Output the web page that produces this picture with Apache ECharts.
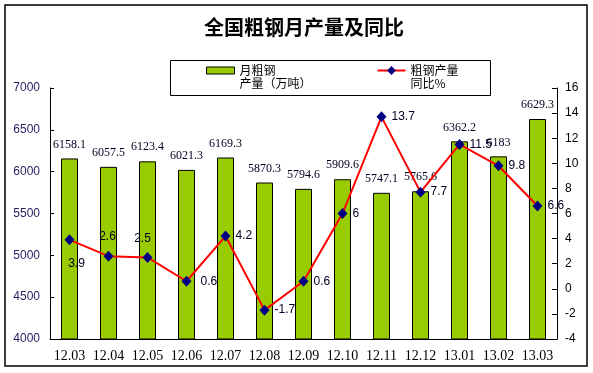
<!DOCTYPE html>
<html>
<head>
<meta charset="utf-8">
<script src="https://cdn.jsdelivr.net/npm/echarts@6/dist/echarts.min.js"></script>
<style>html,body{margin:0;padding:0;background:#fff;}#c{width:593px;height:373px;}</style>
</head>
<body>
<div id="c"></div>
<script>
var categories = ['12.03','12.04','12.05','12.06','12.07','12.08','12.09','12.10','12.11','12.12','13.01','13.02','13.03'];
var output = [6158.1, 6057.5, 6123.4, 6021.3, 6169.3, 5870.3, 5794.6, 5909.6, 5747.1, 5765.6, 6362.2, 6183, 6629.3];
var yoy = [3.9, 2.6, 2.5, 0.6, 4.2, -1.7, 0.6, 6, 13.7, 7.7, 11.5, 9.8, 6.6];
var leftTicks = {min: 4000, max: 7000, interval: 500};
var rightTicks = {min: -4, max: 16, interval: 2};

var labelPlacement = {
  0: {position: 'bottom', distance: 12, offset: [7, 0]},
  1: {position: 'top', distance: 8, offset: [-1, 0]},
  2: {position: 'top', distance: 7, offset: [-5, 0]},
  3: {position: 'right', distance: 9}
};
var yoyData = yoy.map(function (v, i) {
  var d = {value: v};
  if (labelPlacement[i]) d.label = labelPlacement[i];
  return d;
});

var chart = echarts.init(document.getElementById('c'), null, {renderer: 'canvas'});
chart.setOption({
  animation: false,
  backgroundColor: '#fff',
  title: {
    text: '全国粗钢月产量及同比',
    left: 204, top: 17, padding: 0,
    textStyle: {fontFamily: 'Noto Sans CJK SC', fontSize: 20, fontWeight: 'bold', color: '#000'}
  },
  legend: {
    left: 206, top: 51, padding: 0,
    itemGap: 65,
    itemWidth: 28, itemHeight: 11,
    formatter: function (name) { return '\n' + name; },
    textStyle: {fontFamily: 'Noto Sans CJK SC', fontSize: 12, color: '#000', lineHeight: 13},
    data: [
      {name: '月粗钢\n产量（万吨）', icon: 'path://M0,2L28,2L28,9L0,9Z M0,0L0,0 M0,11L0,11',
        itemStyle: {color: '#99cc00', borderColor: '#000', borderWidth: 1}},
      {name: '粗钢产量\n同比%'}
    ]
  },
  graphic: [
    {type: 'rect', shape: {x: 5, y: 5, width: 582, height: 361}, style: {fill: 'none', stroke: '#000', lineWidth: 1.5}, silent: true},
    {type: 'rect', shape: {x: 170.5, y: 60.5, width: 320, height: 35}, style: {fill: 'none', stroke: '#000', lineWidth: 1}, silent: true}
  ],
  grid: {left: 50, right: 36, top: 88, bottom: 34},
  xAxis: {
    type: 'category',
    data: categories,
    axisLine: {onZero: false, lineStyle: {color: '#000', width: 1}},
    axisTick: {inside: true, length: 4, lineStyle: {color: '#000'}},
    axisLabel: {interval: 0, fontFamily: 'Liberation Serif', fontSize: 14, color: '#000', margin: 10}
  },
  yAxis: [
    {
      type: 'value', min: leftTicks.min, max: leftTicks.max, interval: leftTicks.interval,
      splitLine: {show: false},
      axisLine: {show: true, lineStyle: {color: '#000'}},
      axisTick: {show: true, inside: true, length: 4, lineStyle: {color: '#000'}},
      axisLabel: {fontFamily: 'Liberation Sans', fontSize: 12, color: '#2a1a5e', margin: 10,
        formatter: function (v) { return String(v); }}
    },
    {
      type: 'value', min: rightTicks.min, max: rightTicks.max, interval: rightTicks.interval,
      splitLine: {show: false},
      axisLine: {show: true, lineStyle: {color: '#000'}},
      axisTick: {show: true, inside: true, length: 5, lineStyle: {color: '#000'}},
      axisLabel: {fontFamily: 'Liberation Sans', fontSize: 12, color: '#000', margin: 8}
    }
  ],
  series: [
    {
      name: '月粗钢\n产量（万吨）',
      type: 'bar',
      data: output,
      barWidth: 17,
      itemStyle: {color: '#99cc00', borderColor: '#000', borderWidth: 1},
      label: {show: true, position: 'top', distance: 8, fontFamily: 'Liberation Serif', fontSize: 12, color: '#000022'}
    },
    {
      name: '粗钢产量\n同比%',
      type: 'line',
      yAxisIndex: 1,
      data: yoyData,
      lineStyle: {color: '#ff0000', width: 2},
      itemStyle: {color: '#000080'},
      symbol: 'diamond',
      symbolSize: [10, 11],
      z: 3,
      label: {show: true, position: 'right', distance: 5, fontFamily: 'Liberation Sans', fontSize: 12, color: '#000022'}
    }
  ]
});
</script>
</body>
</html>
